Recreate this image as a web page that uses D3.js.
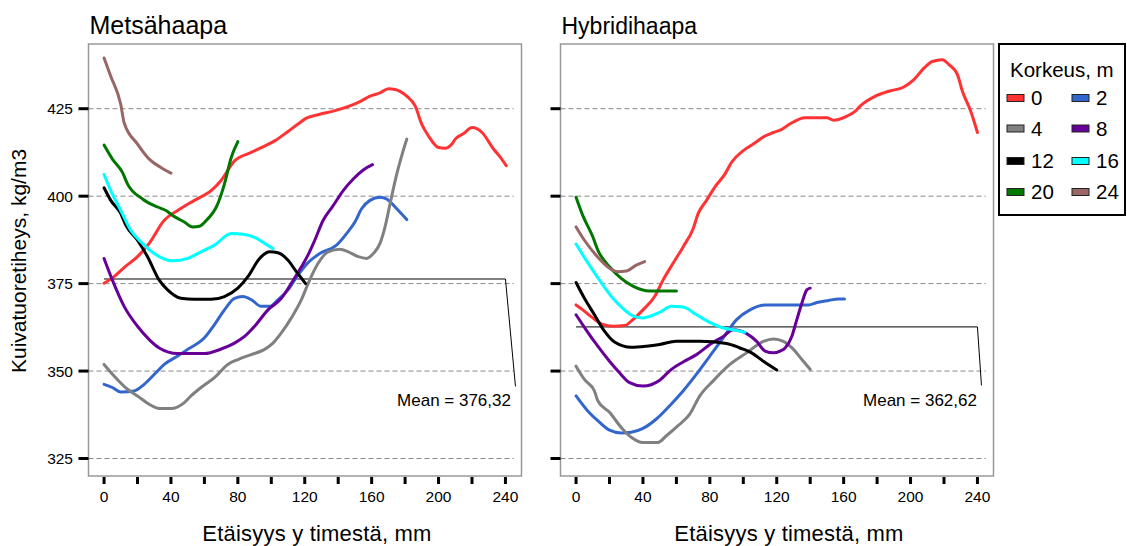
<!DOCTYPE html>
<html>
<head>
<meta charset="utf-8">
<script src="https://cdn.jsdelivr.net/npm/d3@7"></script>
<style>
  body { margin: 0; background: #fff; }
  svg { display: block; font-family: "Liberation Sans", Arial, sans-serif; }
</style>
</head>
<body>
<div id="chart"></div>
<script>
// Heights (legend categories) and their colours
const heights = ["0", "2", "4", "8", "12", "16", "20", "24"];
const colors = ["#ff3333", "#3366cc", "#808080", "#660099", "#000000", "#00ffff", "#007700", "#996666"];

const xTicks = [0, 20, 40, 60, 80, 100, 120, 140, 160, 180, 200, 220, 240];
const xLabels = [0, 40, 80, 120, 160, 200, 240];
const yTicks = [325, 350, 375, 400, 425];

const panelTitles = ["Metsähaapa", "Hybridihaapa"];
const meanValues = [376.32, 362.62];
const meanLabels = ["Mean = 376,32", "Mean = 362,62"];
// where the leader line of the mean label ends [x, y]
const meanLeaderEnds = [[246, 345.6], [242.4, 345.9]];

// Metsähaapa: [distance mm, density kg/m3]
const metsa0 = [[0,375.1],[6,377],[12,379.6],[20,382.7],[27,386.5],[36,393.1],[44,395.9],[54,398.8],[64,401.6],[70,404.5],[78,410.1],[88,412.5],[94,413.9],[102,415.8],[110,418.5],[117,421],[121,422.3],[129,423.4],[137,424.3],[147,425.8],[153,427],[159,428.6],[165,429.5],[170,430.7],[174,430.5],[181,428.6],[186,425.8],[190,420.5],[194,417.2],[200,413.9],[204,413.7],[208,414.9],[210,416.3],[215,417.9],[220,419.6],[226,418.2],[233,413.4],[237,411.1],[240.5,408.7]];
const metsa2 = [[0,346.2],[5,345.3],[10,344],[18,344.3],[24,346.2],[31,349.5],[36,351.9],[44,354.3],[50,356.2],[60,359.5],[66,363.3],[72,367.5],[78,370.8],[83,371.3],[88,370.4],[94,368.5],[99,368.5],[104,370.4],[110,373.2],[116,377.5],[122,381],[129,383.6],[139,386],[145,389.3],[150,392.6],[154,396.4],[159,398.8],[165,399.7],[169,399.2],[174,396.9],[181,393.3]];
const metsa4 = [[0,351.9],[6,348.6],[14,344.8],[20,342.9],[27,340.5],[33,339.3],[40,339.3],[48,341],[52,342.9],[58,345.3],[66,348.1],[74,351.9],[80,353.3],[88,354.7],[96,356.2],[101,358],[106,360.9],[112,365.2],[118,370.4],[122,375],[128,380.8],[134,384.1],[141,384.8],[146,384.1],[152,382.7],[157,382.2],[161,383.6],[165,386.5],[168,391.2],[171,397.8],[175,406.3],[178,411.6],[181,416.3]];
const metsa8 = [[0,382.2],[5,376],[12,368.5],[20,362.8],[27,359],[33,356.6],[44,355],[60,355],[70,356.3],[78,358],[84,359.9],[90,362.8],[98,367.5],[106,370.8],[112,375.1],[118,379.8],[122,383.2],[126,387.4],[131,393.1],[137,397.3],[143,401.6],[149,404.9],[155,407.5],[160.5,409]];
const metsa12 = [[0,402.4],[4,398.8],[10,395],[13,391.7],[20,387.4],[26,382.7],[33,376],[38,373.2],[46,370.8],[54,370.5],[64,370.5],[72,371.3],[80,373.7],[86,377],[93,382.2],[99,384.1],[104,383.8],[110,381.7],[115,378.4],[120.5,375]];
const metsa16 = [[0,406.2],[4,401.6],[10,395.9],[16,390.2],[23,386.5],[30,383.6],[41,381.5],[50,382.2],[58,384.1],[66,386],[76,389.3],[83,389.1],[90,388.2],[96,386.5],[101,385]];
const metsa20 = [[0,414.6],[5,410.6],[11,406.8],[14,403.5],[23,399.2],[32,396.9],[37,395.9],[41,394.5],[48,392.6],[53,391.2],[57,391.4],[61,393],[68,397.8],[72,403.5],[76,411],[80,415.6]];
const metsa24 = [[0,439.5],[4,434.3],[10,426.2],[12,421],[20,414.9],[27,410.6],[34,408.2],[40,406.6]];

// Hybridihaapa
const hybrid0 = [[0,368.9],[4,367.5],[10,365.2],[16,363.3],[22,362.8],[29,363],[34,364.7],[40,367.5],[47,371.3],[52,376],[58,380.8],[64,385.5],[70,390.7],[73,395],[78,398.8],[83,402.6],[89,406.3],[93,409.7],[100,413],[106,414.9],[113,417.2],[118,418.2],[123,419.1],[128,420.7],[137,422.4],[150,422.4],[154,421.7],[162,422.9],[167,424.3],[170,425.8],[179,428.6],[187,430],[196,431.2],[202,433.3],[208,436.6],[213,438.5],[219,439],[223,437.6],[228,434.8],[231,430],[236,424.3],[240,418.2]];
const hybrid2 = [[0,342.9],[7,338.6],[13,335.8],[20,333.1],[27,332.3],[33,332.5],[40,333.6],[48,336.3],[56,340.1],[64,344.3],[72,349.1],[80,354.3],[88,359.5],[96,364.7],[104,367.5],[113,368.9],[122,368.9],[139,368.9],[144,369.6],[151,370.2],[157,370.6],[160.5,370.6]];
const hybrid4 = [[0,351.4],[5,347.6],[11,344.3],[13,341.5],[20,338.2],[27,333.9],[33,331.1],[40,329.6],[49,329.6],[54,331.5],[61,334.4],[68,337.7],[74,342.9],[82,347.2],[92,351.9],[102,355.2],[112,358.5],[118,359.2],[124,358.5],[130,356.2],[135,353.3],[140,350.5]];
const hybrid8 = [[0,366.1],[6,361.8],[13,357.1],[20,352.8],[26,349.5],[32,346.7],[40,345.7],[50,347.4],[57,350.5],[64,352.6],[72,354.7],[80,357.6],[88,359.9],[94,361.8],[102,360.7],[108,358.5],[113,355.7],[118,355.2],[122,355.7],[125,356.6],[129,359.9],[132,364.7],[135,369.4],[138,373.2],[140,373.7]];
const hybrid12 = [[0,375.3],[5,370.8],[11,366.1],[17,361.4],[23,358.3],[33,356.8],[42,357.1],[50,357.6],[60,358.5],[74,358.5],[90,357.9],[98,356.6],[105,355.2],[112,352.8],[120,350.3]];
const hybrid16 = [[0,386.3],[6,381.7],[14,376],[22,370.8],[28,367.9],[34,365.8],[40,365.2],[50,366.8],[57,368.5],[64,368.3],[72,366.1],[80,363.9],[88,362.3],[94,361.8],[101,361.1]];
const hybrid20 = [[0,399.7],[4,394.5],[10,388.4],[13,384.6],[20,379.8],[27,376.5],[34,374.3],[44,372.9],[60,372.9]];
const hybrid24 = [[0,391.2],[5,387.4],[12,383.1],[20,379.4],[25,378.4],[30,378.6],[36,380.3],[41,381.3]];

const panelSeries = [
    [metsa0, metsa2, metsa4, metsa8, metsa12, metsa16, metsa20, metsa24],
    [hybrid0, hybrid2, hybrid4, hybrid8, hybrid12, hybrid16, hybrid20, hybrid24]
];

const W = 1127, H = 546;
const frameTop = 44, frameBottom = 476, frameWidth = 433;
const frameLefts = [88.5, 560.5];
const titleSizes = [25, 23];

const svg = d3.select("#chart").append("svg")
    .attr("width", W)
    .attr("height", H);

const y = d3.scaleLinear().domain([320, 443.5]).range([frameBottom, frameTop]);

panelTitles.forEach((title, p) => {
    const left = frameLefts[p];
    const x = d3.scaleLinear().domain([-9.3, 249.6]).range([left, left + frameWidth]);
    const g = svg.append("g");

    // dashed gridlines
    g.selectAll("line.grid")
        .data(yTicks)
        .join("line")
        .attr("class", "grid")
        .attr("x1", left)
        .attr("x2", x(245))
        .attr("y1", d => y(d))
        .attr("y2", d => y(d))
        .attr("stroke", "#888")
        .attr("stroke-width", 1)
        .attr("stroke-dasharray", "5,3");

    // frame
    g.append("rect")
        .attr("x", left)
        .attr("y", frameTop)
        .attr("width", frameWidth)
        .attr("height", frameBottom - frameTop)
        .attr("fill", "none")
        .attr("stroke", "#999")
        .attr("stroke-width", 1.5);

    // y tick marks (labels only on the first panel)
    g.selectAll("line.ytick")
        .data(yTicks)
        .join("line")
        .attr("class", "ytick")
        .attr("x1", left - 10)
        .attr("x2", left)
        .attr("y1", d => y(d))
        .attr("y2", d => y(d))
        .attr("stroke", "#000")
        .attr("stroke-width", 3);

    if (p === 0) {
        g.selectAll("text.ylab")
            .data(yTicks)
            .join("text")
            .attr("class", "ylab")
            .attr("x", left - 15.5)
            .attr("y", d => y(d) + 5.5)
            .attr("text-anchor", "end")
            .attr("font-size", 15.5)
            .text(d => d);
    }

    // x tick marks
    g.selectAll("line.xtick")
        .data(xTicks)
        .join("line")
        .attr("class", "xtick")
        .attr("x1", d => x(d))
        .attr("x2", d => x(d))
        .attr("y1", frameBottom + 1)
        .attr("y2", frameBottom + 8)
        .attr("stroke", "#000")
        .attr("stroke-width", 3);

    g.selectAll("text.xlab")
        .data(xLabels)
        .join("text")
        .attr("class", "xlab")
        .attr("x", d => x(d))
        .attr("y", 502)
        .attr("text-anchor", "middle")
        .attr("font-size", 15.5)
        .text(d => d);

    // x axis title
    g.append("text")
        .attr("x", left + frameWidth / 2 + 12)
        .attr("y", 541)
        .attr("text-anchor", "middle")
        .attr("font-size", 22)
        .attr("letter-spacing", 0.2)
        .text("Etäisyys y timestä, mm");

    // panel title
    g.append("text")
        .attr("x", left + 1)
        .attr("y", 34)
        .attr("font-size", titleSizes[p])
        .text(title);

    // mean reference line with leader to label
    const mean = meanValues[p];
    const end = meanLeaderEnds[p];
    g.append("path")
        .attr("d", d3.line()([[x(0), y(mean)], [x(240), y(mean)], [x(end[0]), y(end[1])]]))
        .attr("fill", "none")
        .attr("stroke", "#000")
        .attr("stroke-width", 1);

    g.append("text")
        .attr("x", x(end[0]) - 4.5)
        .attr("y", 405.5)
        .attr("text-anchor", "end")
        .attr("font-size", 17)
        .text(meanLabels[p]);

    // series lines
    const line = d3.line()
        .x(d => x(d[0]))
        .y(d => y(d[1]))
        .curve(d3.curveMonotoneX);

    g.selectAll("path.series")
        .data(panelSeries[p])
        .join("path")
        .attr("class", "series")
        .attr("d", line)
        .attr("fill", "none")
        .attr("stroke", (d, i) => colors[i])
        .attr("stroke-width", 3)
        .attr("stroke-linejoin", "round")
        .attr("stroke-linecap", "round");
});

// y axis title
svg.append("text")
    .attr("transform", "translate(26,261) rotate(-90)")
    .attr("text-anchor", "middle")
    .attr("font-size", 21)
    .text("Kuivatuoretiheys, kg/m3");

// legend
const legend = svg.append("g");
legend.append("rect")
    .attr("x", 999)
    .attr("y", 44)
    .attr("width", 126)
    .attr("height", 171)
    .attr("fill", "#fff")
    .attr("stroke", "#000")
    .attr("stroke-width", 2);

legend.append("text")
    .attr("x", 1010)
    .attr("y", 77)
    .attr("font-size", 20.5)
    .text("Korkeus, m");

const rowY = [98, 128.5, 161, 192];
const colX = [1007, 1072];

const items = legend.selectAll("g.item")
    .data(heights)
    .join("g")
    .attr("class", "item")
    .attr("transform", (d, i) => `translate(${colX[i % 2]},${rowY[Math.floor(i / 2)]})`);

items.append("rect")
    .attr("x", 0)
    .attr("y", -3.5)
    .attr("width", 17)
    .attr("height", 7)
    .attr("fill", (d, i) => colors[i])
    .attr("stroke", "#222")
    .attr("stroke-width", 1);

items.append("text")
    .attr("x", 24)
    .attr("y", 7)
    .attr("font-size", 20.5)
    .text(d => d);
</script>
</body>
</html>
